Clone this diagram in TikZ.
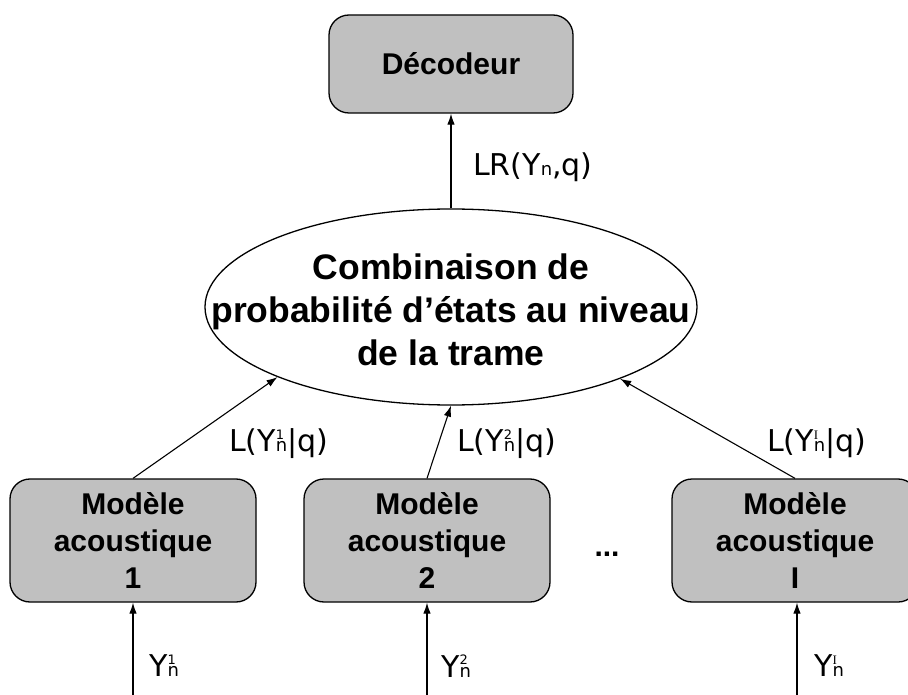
\documentclass[tikz,border=0pt]{standalone}
\usepackage{fontspec}
\setmainfont{Liberation Sans}
\newfontfamily\labfont{DejaVu Sans}
\newfontfamily\serfont{Liberation Serif}
\usetikzlibrary{shapes.geometric,arrows.meta}
\definecolor{boxgray}{HTML}{C0C0C0}
\newcommand{\smallsz}{\fontsize{18}{18}\selectfont}
\newcommand{\supsz}{\fontsize{13}{13}\selectfont}
\newcommand{\Ysub}{Y{\smallsz n}}
\newcommand{\Ysupsub}[1]{Y\rlap{\raisebox{12.5pt}{\supsz #1}}{\smallsz n}}
\begin{document}
\begin{tikzpicture}[x=1pt,y=-1pt,
  box/.style={draw, line width=1.3pt, fill=boxgray, rounded corners=20pt,
    minimum width=246pt, minimum height=123pt, align=center, inner sep=0pt,
    font=\bfseries\fontsize{30}{37}\selectfont},
  arr/.style={-{Latex[length=11pt,width=7.5pt]}, line width=1.1pt},
  lab/.style={font=\labfont\fontsize{30}{36}\selectfont, anchor=west, inner sep=0pt}]
\useasboundingbox (0,0) rectangle (908,695);
\node[box, minimum width=244pt, minimum height=98pt] (dec) at (451,64) {Décodeur};
\node[ellipse, draw, line width=1.3pt, minimum width=492pt, minimum height=196pt, inner sep=0pt] (ell) at (451,307) {};
\node[align=center, inner sep=0pt, font=\bfseries\fontsize{35.5}{43}\selectfont] (elltxt) at (451,310)
  {Combinaison de\\probabilité d’états au niveau\\de la trame};
\node[box] (m1) at (133,540.5) {Modèle\\acoustique\\1};
\node[box] (m2) at (427,540.5) {Modèle\\acoustique\\2};
\node[box] (m3) at (795,540.5) {Modèle\\acoustique\\I};
\node[anchor=base, inner sep=0pt, font=\bfseries\fontsize{30}{36}\selectfont] (dots) at (607,556) {...};
\coordinate (i1) at (133,695);
\coordinate (i2) at (427,695);
\coordinate (i3) at (797,695);
\draw[arr] (ell.north) -- (dec.south);
\draw[arr] (m1.north) -- (ell.202.6);
\draw[arr] (m2.north) -- (ell.south);
\draw[arr] (m3.north) -- (ell.337.4);
\draw[arr] (i1) -- (m1.south);
\draw[arr] (i2) -- (m2.south);
\draw[arr] (i3) -- (m3.south -| i3);
\node[lab] (lr) at (473,167) {LR(\Ysub,q)};
\node[lab] (l1) at (229,444) {L(\Ysupsub{1}|q)};
\node[lab] (l2) at (457,444) {L(\Ysupsub{2}|q)};
\node[lab] (l3) at (767,444) {L(\Ysupsub{\serfont I}|q)};
\node[lab] (y1) at (149,666) {\Ysupsub{1}};
\node[lab] (y2) at (441,666) {\Ysupsub{2}};
\node[lab] (y3) at (814,666) {\Ysupsub{\serfont I}};
\end{tikzpicture}
\end{document}
